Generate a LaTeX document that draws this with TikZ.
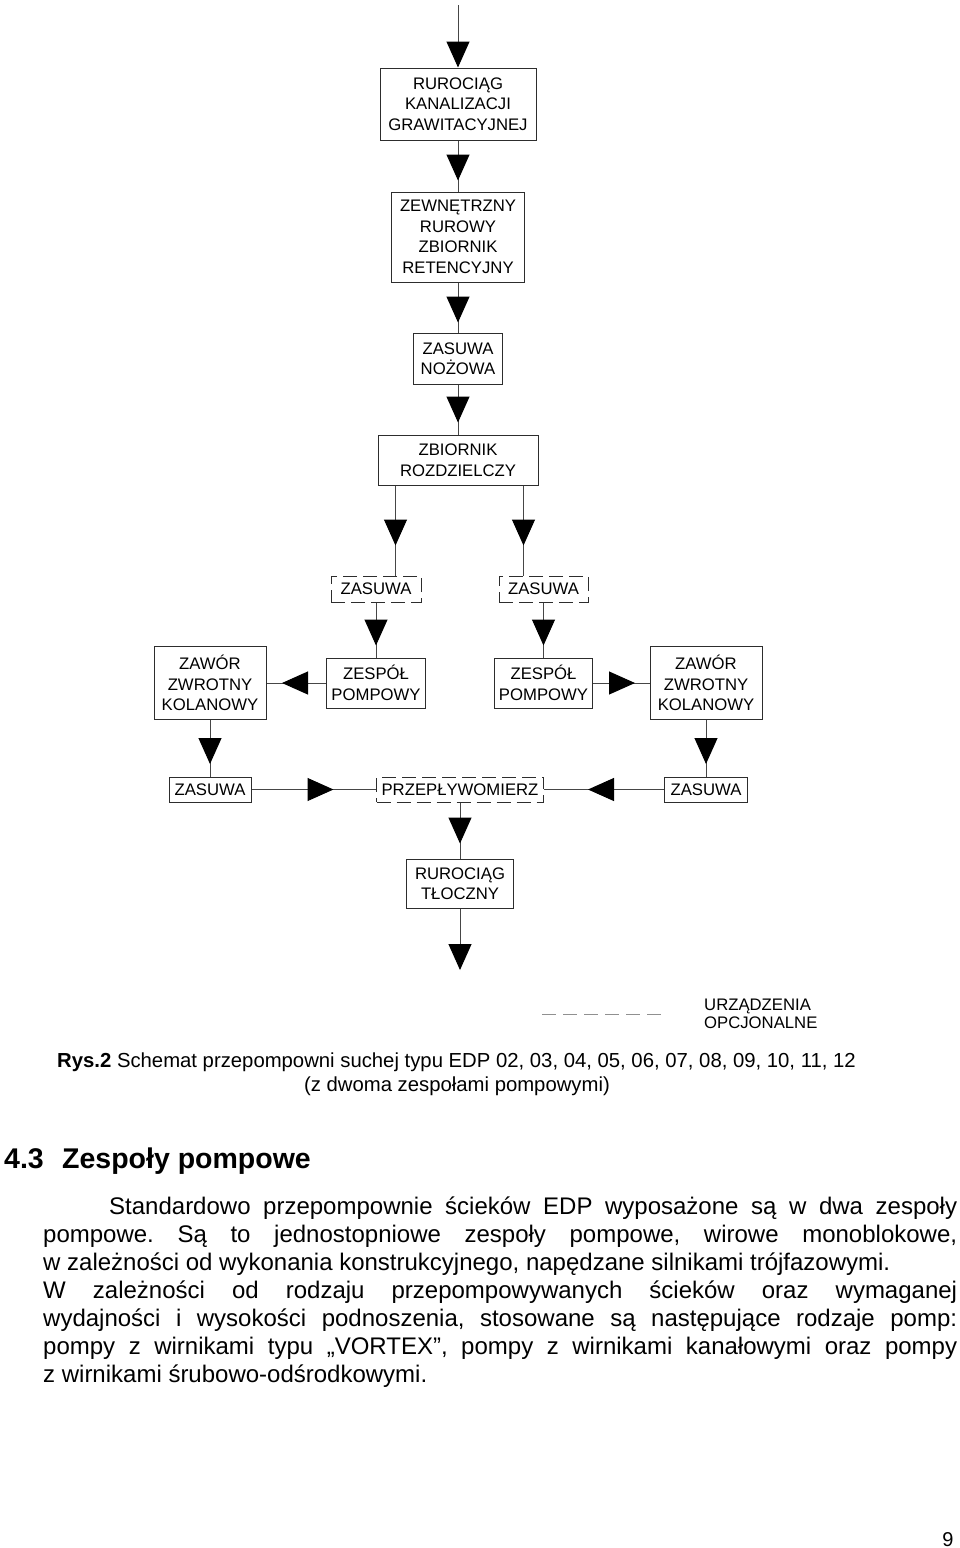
\documentclass[tikz,border=0pt]{standalone}
\usepackage{fontspec}
\setmainfont{Liberation Sans}
\usepackage{xcolor}
\usetikzlibrary{arrows.meta,decorations.markings}
\definecolor{pumpLine}{RGB}{70,70,70}
\definecolor{pumpBorder}{RGB}{45,45,45}
\frenchspacing

\begin{document}
\begin{tikzpicture}[x=1pt,y=-1pt]
\tikzstyle{box} = [draw=pumpBorder, line width=1pt, inner sep=0pt, align=center, font=\fontsize{16.7}{20.5}\selectfont]
\tikzstyle{optbox} = [box, dash pattern=on 14pt off 6pt]
\tikzstyle{txt} = [anchor=base west, inner sep=0pt, font=\fontsize{24}{28}\selectfont]
\tikzset{flow/.style={draw=pumpLine, line width=1pt, postaction={decorate},
  decoration={markings, mark=at position #1 with {\arrow{Triangle[length=26pt,width=23pt,color=black]}}}}}
\tikzstyle{flowend} = [draw=pumpLine, line width=1pt, -{Triangle[length=26pt,width=23pt,color=black]}]
\useasboundingbox (0,0) rectangle (960,1548);

% main line
\coordinate (in) at (458,5);
\node[box, minimum width=156pt, minimum height=72pt] (rkg) at (458,104) {RUROCIĄG\\KANALIZACJI\\GRAWITACYJNEJ};
\node[box, minimum width=133pt, minimum height=90pt] (zrz) at (458,237) {ZEWNĘTRZNY\\RUROWY\\ZBIORNIK\\RETENCYJNY};
\node[box, minimum width=89pt, minimum height=51pt] (zn) at (458,358.5) {ZASUWA\\NOŻOWA};
\node[box, minimum width=160pt, minimum height=50pt] (zbr) at (458,460) {ZBIORNIK\\ROZDZIELCZY};

% two pump branches
\node[optbox, minimum width=90pt, minimum height=26pt] (zl) at (376,589) {ZASUWA};
\node[optbox, minimum width=89pt, minimum height=26pt] (zp) at (543.5,589) {ZASUWA};
\node[box, minimum width=99pt, minimum height=50pt] (pl) at (376,683) {ZESPÓŁ\\POMPOWY};
\node[box, minimum width=98pt, minimum height=50pt] (pp) at (543.5,683) {ZESPÓŁ\\POMPOWY};
\node[box, minimum width=112pt, minimum height=73pt] (kl) at (210,683) {ZAWÓR\\ZWROTNY\\KOLANOWY};
\node[box, minimum width=112pt, minimum height=73pt] (kp) at (706,683) {ZAWÓR\\ZWROTNY\\KOLANOWY};
\node[box, minimum width=82pt, minimum height=25pt] (sl) at (210,789.5) {ZASUWA};
\node[optbox, minimum width=167pt, minimum height=25pt] (prz) at (460,789.5) {PRZEPŁYWOMIERZ};
\node[box, minimum width=83pt, minimum height=25pt] (sp) at (706,789.5) {ZASUWA};
\node[box, minimum width=107pt, minimum height=49pt] (rt) at (460,883.5) {RUROCIĄG\\TŁOCZNY};
\coordinate (out) at (460,970);

\draw[flowend] (in) -- (rkg.north);
\draw[flow=40pt] (rkg.south) -- (zrz.north);
\draw[flow=40pt] (zrz.south) -- (zn.north);
\draw[flow=38pt] (zn.south) -- (zbr.north);
\draw[flow=60pt] ([xshift=18pt]zbr.south west) -- ([xshift=18pt]zbr.south west |- zl.north);
\draw[flow=60pt] ([xshift=-15pt]zbr.south east) -- ([xshift=-15pt]zbr.south east |- zp.north);
\draw[flow=43pt] (zl.south) -- (pl.north);
\draw[flow=43pt] (zp.south) -- (pp.north);
\draw[flow=44pt] (pl.west) -- (kl.east);
\draw[flow=42pt] (pp.east) -- (kp.west);
\draw[flow=44pt] (kl.south) -- (sl.north);
\draw[flow=44pt] (kp.south) -- (sp.north);
\draw[flow=82pt] (sl.east) -- (prz.west);
\draw[flow=76pt] (sp.west) -- (prz.east);
\draw[flow=41pt] (prz.south) -- (rt.north);
\draw[flowend] (rt.south) -- (out);

% legend
\coordinate (lgA) at (542,1014);
\coordinate (lgB) at (667,1014);
\draw[pumpLine!60, line width=1pt, dash pattern=on 14pt off 7pt] (lgA) -- (lgB);
\node[anchor=west, align=left, inner sep=0pt, font=\fontsize{16.7}{18}\selectfont] (lgt) at (704,1014) {URZĄDZENIA\\OPCJONALNE};

% caption and text
\node[txt, font=\fontsize{20.3}{24}\selectfont] (cap1) at (57,1067) {\textbf{Rys.2} Schemat przepompowni suchej typu EDP 02, 03, 04, 05, 06, 07, 08, 09, 10, 11, 12};
\node[anchor=base, inner sep=0pt, font=\fontsize{20.3}{24}\selectfont] (cap2) at (457,1091) {(z dwoma zespołami pompowymi)};
\node[txt, font=\bfseries\fontsize{28.5}{32}\selectfont] (hnum) at (4,1168) {4.3};
\node[txt, font=\bfseries\fontsize{28.5}{32}\selectfont] (htit) at (62,1168) {Zespoły pompowe};
\node[txt] (p1) at (109,1214) {\hbox to 848pt{Standardowo przepompownie ścieków EDP wyposażone są w dwa zespoły}};
\node[txt] (p2) at (43,1242) {\hbox to 914pt{pompowe. Są to jednostopniowe zespoły pompowe, wirowe monoblokowe,}};
\node[txt] (p3) at (43,1270) {w zależności od wykonania konstrukcyjnego, napędzane silnikami trójfazowymi.};
\node[txt] (p4) at (43,1298) {\hbox to 914pt{W zależności od rodzaju przepompowywanych ścieków oraz wymaganej}};
\node[txt] (p5) at (43,1326) {\hbox to 914pt{wydajności i wysokości podnoszenia, stosowane są następujące rodzaje pomp:}};
\node[txt] (p6) at (43,1354) {\hbox to 914pt{pompy z wirnikami typu „VORTEX”, pompy z wirnikami kanałowymi oraz pompy}};
\node[txt] (p7) at (43,1382) {z wirnikami śrubowo-odśrodkowymi.};
\node[anchor=base, inner sep=0pt, font=\fontsize{20}{24}\selectfont] (pg) at (948,1546) {9};
\end{tikzpicture}
\end{document}
